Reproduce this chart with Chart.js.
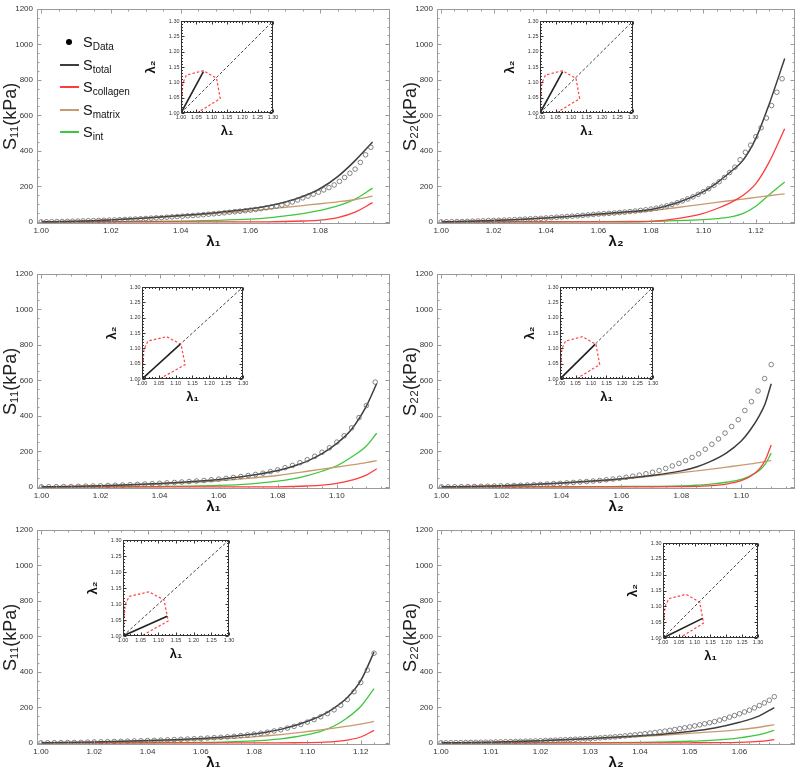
<!DOCTYPE html>
<html>
<head>
<meta charset="utf-8">
<script src="https://cdn.jsdelivr.net/npm/chart.js@4.4.1/dist/chart.umd.min.js"></script>
<style>
  html, body { margin: 0; padding: 0; background: #fff; overflow: hidden; }
  #fig { position: relative; width: 800px; height: 772px; overflow: hidden;
         font-family: "Liberation Sans", Arial, Helvetica, sans-serif; }
  .box { position: absolute; }
  .box canvas { display: block; }
  #legend { position: absolute; left: 0; top: 0; width: 170px; height: 150px; color: #111; }
  #legend .row { position: absolute; left: 0; width: 170px; height: 20px; }
  #legend .txt { position: absolute; left: 83px; top: 0; font-size: 14.5px; line-height: 18px; white-space: nowrap; }
  #legend sub { font-size: 10px; vertical-align: -3px; }
</style>
</head>
<body>
<div id="fig"></div>
<script>
/* ---- Stress curves, 3 protocols x 2 directions ---- */

// shared axis ticks
const yTicks = [0, 200, 400, 600, 800, 1000, 1200];
const insetTicks = [1.00, 1.05, 1.10, 1.15, 1.20, 1.25, 1.30];

// inset: tested region (red dashed) and diagonal
const regionL1 = [1.000, 1.006, 1.018, 1.073, 1.116, 1.128, 1.052];
const regionL2 = [1.000, 1.098, 1.124, 1.138, 1.113, 1.047, 1.000];
const diagL = [1.00, 1.30];

// legend
const legendSubs = ['Data', 'total', 'collagen', 'matrix', 'int'];

// --- panel A: S11 vs lambda1 (protocol 1) ---
const A_xTicks = [1.00, 1.02, 1.04, 1.06, 1.08];
const A_knots    = [1.00, 1.01, 1.02, 1.03, 1.04, 1.05, 1.06, 1.065, 1.07, 1.075, 1.08, 1.085, 1.09, 1.095];
const A_total    = [0, 4, 11, 22, 36, 52, 74, 90, 112, 143, 188, 255, 345, 450];
const A_collagen = [0, 0, 0, 0, 0, 0, 0, 0.5, 2, 5, 10, 24, 55, 108];
const A_matrix   = [0, 4, 11, 21, 33, 47, 62, 72, 82, 92, 102, 113, 126, 145];
const A_int      = [0, 0.3, 1, 2, 4, 8, 15, 22, 34, 47, 65, 90, 128, 190];
const A_dataX = [1.0000,1.0015,1.0030,1.0045,1.0060,1.0075,1.0090,1.0105,1.0120,1.0135,1.0150,1.0165,1.0180,1.0195,1.0210,1.0225,
  1.0240,1.0255,1.0270,1.0285,1.0300,1.0315,1.0330,1.0345,1.0360,1.0375,1.0390,1.0405,1.0420,1.0435,1.0450,1.0465,
  1.0480,1.0495,1.0510,1.0525,1.0540,1.0555,1.0570,1.0585,1.0600,1.0615,1.0630,1.0645,1.0660,1.0675,1.0690,1.0705,
  1.0720,1.0735,1.0750,1.0765,1.0780,1.0795,1.0810,1.0825,1.0840,1.0855,1.0870,1.0885,1.0900,1.0915,1.0930,1.0945];
const A_dataY = [0,0.5,1,1.5,2,3,3.5,4.5,5.5,6.5,7,8,9,10,11,12,
  13.5,15,16,17.5,19,21,22.5,24,26,28,30,32,34,36,38,40.5,
  43,45.5,48,51,54,57,60,63,66,70,74,79,84,89,95,102,
  112,123,135,145,156,167,180,193,208,228,250,274,297,335,378,420];
const A_protoL1 = [1.00, 1.073];
const A_protoL2 = [1.00, 1.135];

// --- panel B: S22 vs lambda2 (protocol 1) ---
const B_xTicks = [1.00, 1.02, 1.04, 1.06, 1.08, 1.10, 1.12];
const B_knots    = [1.00, 1.01, 1.02, 1.03, 1.04, 1.05, 1.06, 1.07, 1.08, 1.09, 1.10, 1.105, 1.11, 1.115, 1.12, 1.125, 1.131];
const B_total    = [0, 3, 8, 14, 22, 32, 44, 55, 70, 108, 170, 218, 278, 345, 470, 660, 920];
const B_collagen = [0, 0, 0, 0, 0, 0, 0, 0.5, 3, 18, 48, 74, 106, 148, 215, 335, 525];
const B_matrix   = [0, 3, 8, 14, 22, 31, 40, 51, 62, 81, 100, 110, 119, 128, 138, 147, 158];
const B_int      = [0, 0, 0.2, 0.4, 0.7, 1, 1.5, 2, 3, 7, 13, 18, 27, 46, 88, 152, 225];
const B_dataX = [1.000,1.002,1.004,1.006,1.008,1.010,1.012,1.014,1.016,1.018,1.020,1.022,1.024,1.026,1.028,1.030,1.032,
  1.034,1.036,1.038,1.040,1.042,1.044,1.046,1.048,1.050,1.052,1.054,1.056,1.058,1.060,1.062,1.064,1.066,1.068,
  1.070,1.072,1.074,1.076,1.078,1.080,1.082,1.084,1.086,1.088,1.090,1.092,1.094,1.096,1.098,1.100,1.102,1.104,
  1.106,1.108,1.110,1.112,1.114,1.116,1.118,1.120,1.122,1.124,1.126,1.128,1.130];
const B_dataY = [0,0.5,1,1.5,2,3,4,5,6,7,8,9,10,11,12.5,14,15.5,
  17,18.5,20,22,24,26,28,30,32,34,36.5,39,41.5,44,46,48,50,52.5,
  55,58,61,64.5,68,72,77,83,90,98,108,118,129,141,155,170,187,206,
  226,250,278,308,350,392,432,480,530,585,655,730,806];
const B_protoL1 = [1.00, 1.073];
const B_protoL2 = [1.00, 1.135];

// --- panel C: S11 vs lambda1 (equibiaxial) ---
const C_xTicks = [1.00, 1.02, 1.04, 1.06, 1.08, 1.10];
const C_knots    = [1.00, 1.01, 1.02, 1.03, 1.04, 1.05, 1.06, 1.07, 1.08, 1.085, 1.09, 1.095, 1.10, 1.105, 1.11, 1.1135];
const C_total    = [0, 2, 6, 12, 19, 29, 42, 62, 92, 115, 145, 187, 245, 325, 455, 582];
const C_collagen = [0, 0, 0, 0, 0, 0, 0, 0, 0.5, 2, 5, 10, 20, 38, 66, 102];
const C_matrix   = [0, 2, 5, 10, 16, 24, 34, 48, 64, 76, 88, 100, 112, 124, 137, 148];
const C_int      = [0, 0, 0.2, 0.5, 2, 4, 8, 16, 32, 45, 64, 88, 119, 168, 230, 302];
const C_dataX = [1.0000,1.0025,1.0050,1.0075,1.0100,1.0125,1.0150,1.0175,1.0200,1.0225,1.0250,1.0275,1.0300,1.0325,1.0350,
  1.0375,1.0400,1.0425,1.0450,1.0475,1.0500,1.0525,1.0550,1.0575,1.0600,1.0625,1.0650,1.0675,1.0700,1.0725,
  1.0750,1.0775,1.0800,1.0825,1.0850,1.0875,1.0900,1.0925,1.0950,1.0975,1.1000,1.1025,1.1050,1.1075,1.1100,1.1130];
const C_dataY = [0,0.5,1,1.5,2,3,4,5,6,7.5,9,10.5,12,14,16,
  18,20,22.5,25,27.5,30,33,36,40,44,48,53,58,64,70,
  77,86,96,108,121,136,153,172,195,220,252,288,332,390,458,590];
const C_protoL1 = [1.00, 1.113];
const C_protoL2 = [1.00, 1.113];

// --- panel D: S22 vs lambda2 (equibiaxial) ---
const D_xTicks = [1.00, 1.02, 1.04, 1.06, 1.08, 1.10];
const D_knots    = [1.00, 1.01, 1.02, 1.03, 1.04, 1.05, 1.06, 1.07, 1.08, 1.085, 1.09, 1.095, 1.10, 1.103, 1.106, 1.108, 1.110];
const D_total    = [0, 2, 6, 13, 22, 33, 46, 64, 90, 112, 145, 190, 258, 320, 400, 470, 581];
const D_collagen = [0, 0, 0, 0, 0, 0, 0, 0, 1, 3, 7, 16, 35, 58, 100, 150, 236];
const D_matrix   = [0, 2, 6, 12, 20, 30, 43, 60, 80, 90, 100, 111, 122, 129, 136, 142, 149];
const D_int      = [0, 0, 0.2, 0.4, 0.7, 1, 2, 3, 5, 9, 15, 26, 42, 62, 92, 128, 190];
const D_dataX = [1.0000,1.0022,1.0044,1.0066,1.0088,1.0110,1.0132,1.0154,1.0176,1.0198,1.0220,1.0242,1.0264,1.0286,1.0308,
  1.0330,1.0352,1.0374,1.0396,1.0418,1.0440,1.0462,1.0484,1.0506,1.0528,1.0550,1.0572,1.0594,1.0616,1.0638,
  1.0660,1.0682,1.0704,1.0726,1.0748,1.0770,1.0792,1.0814,1.0836,1.0858,1.0880,1.0902,1.0924,1.0946,1.0968,
  1.0990,1.1012,1.1034,1.1056,1.1078,1.1100];
const D_dataY = [0,0.2,0.5,1,1.5,2,3,3.5,4.5,5.5,6.5,7.5,9,10.5,12,
  14,16,18,20,22.5,25,27.5,30,33,36,40,44,48,54,60,
  66,74,82,92,104,118,132,148,166,186,212,240,270,303,340,
  378,430,480,540,610,689];
const D_protoL1 = [1.00, 1.113];
const D_protoL2 = [1.00, 1.113];

// --- panel E: S11 vs lambda1 (protocol 3) ---
const E_xTicks = [1.00, 1.02, 1.04, 1.06, 1.08, 1.10, 1.12];
const E_knots    = [1.00, 1.02, 1.04, 1.05, 1.06, 1.07, 1.08, 1.085, 1.09, 1.095, 1.10, 1.105, 1.11, 1.115, 1.12, 1.125];
const E_total    = [0, 5, 13, 18, 25, 34, 50, 61, 76, 96, 122, 152, 196, 255, 350, 511];
const E_collagen = [0, 0, 0, 0, 0, 0, 0, 0, 0.2, 0.6, 1.5, 3, 7, 16, 33, 70];
const E_matrix   = [0, 3, 9, 13, 18, 25, 34, 40, 47, 55, 64, 73, 83, 94, 106, 121];
const E_int      = [0, 0, 0.5, 1, 2, 5, 11, 16, 23, 33, 46, 65, 95, 142, 205, 305];
const E_dataX = [1.0000,1.0025,1.0050,1.0075,1.0100,1.0125,1.0150,1.0175,1.0200,1.0225,1.0250,1.0275,1.0300,1.0325,1.0350,
  1.0375,1.0400,1.0425,1.0450,1.0475,1.0500,1.0525,1.0550,1.0575,1.0600,1.0625,1.0650,1.0675,1.0700,1.0725,
  1.0750,1.0775,1.0800,1.0825,1.0850,1.0875,1.0900,1.0925,1.0950,1.0975,1.1000,1.1025,1.1050,1.1075,1.1100,
  1.1125,1.1150,1.1175,1.1200,1.1225,1.1250];
const E_dataY = [0,0.5,1,1.5,2,2.5,3,4,5,6,7,8,9,10,11,
  12,13,14,15.5,17,18.5,20,21.5,23,25,27,29,31.5,34,37,
  41,45,49,54,60,67,74,83,93,104,117,131,147,165,186,
  212,244,288,340,410,505];
const E_protoL1 = [1.00, 1.125];
const E_protoL2 = [1.00, 1.062];

// --- panel F: S22 vs lambda2 (protocol 3) ---
const F_xTicks = [1.00, 1.01, 1.02, 1.03, 1.04, 1.05, 1.06];
const F_knots    = [1.00, 1.01, 1.02, 1.03, 1.04, 1.045, 1.05, 1.055, 1.06, 1.064, 1.067];
const F_total    = [0, 4, 12, 24, 40, 50, 64, 84, 116, 152, 199];
const F_collagen = [0, 0, 0, 0, 0, 0.2, 0.5, 1, 2.5, 8, 18];
const F_matrix   = [0, 4, 12, 23, 36, 44, 53, 63, 75, 88, 103];
const F_int      = [0, 0, 0.5, 1.5, 3, 5, 9, 15, 28, 46, 70];
const F_dataX = [1.000,1.001,1.002,1.003,1.004,1.005,1.006,1.007,1.008,1.009,1.010,1.011,1.012,1.013,1.014,1.015,1.016,
  1.017,1.018,1.019,1.020,1.021,1.022,1.023,1.024,1.025,1.026,1.027,1.028,1.029,1.030,1.031,1.032,1.033,1.034,
  1.035,1.036,1.037,1.038,1.039,1.040,1.041,1.042,1.043,1.044,1.045,1.046,1.047,1.048,1.049,1.050,1.051,1.052,
  1.053,1.054,1.055,1.056,1.057,1.058,1.059,1.060,1.061,1.062,1.063,1.064,1.065,1.066,1.067];
const F_dataY = [0,0.3,0.7,1.1,1.6,2,2.5,3,3.4,3.7,4,4.7,5.4,6.2,7,7.8,8.6,
  9.4,10.2,11.1,12,13.1,14.2,15.4,16.6,17.8,19,20.3,21.6,22.8,24,26,28,30,32,
  34,36.7,39.4,42.2,45,48,51.5,55,58.6,62.3,66,70.6,75.3,80,85,90,95.7,101.5,
  107.5,113.6,120,128,136,145,154,164,174,184,197,210,225,240,260];
const F_protoL1 = [1.00, 1.125];
const F_protoL2 = [1.00, 1.062];

// --- styling ---
const FONT = '"Liberation Sans", Arial, Helvetica, sans-serif';
const COL = { data: '#666666', total: '#3d3d3d', collagen: '#ff3c3c', matrix: '#c89b6e', int: '#3cc83c' };

const panels = [
  { left: 0,   top: 0,   xMin: 0.9988, xMax: 1.100,  xTicks: A_xTicks, xDiv: 4, xTitle: 'λ₁', yTitle: 'S₁₁(kPa)',
    knots: A_knots, total: A_total, collagen: A_collagen, matrix: A_matrix, int: A_int, dataX: A_dataX, dataY: A_dataY,
    inset: [181, 21, 92, 92], protoL1: A_protoL1, protoL2: A_protoL2 },
  { left: 400, top: 0,   xMin: 0.9984, xMax: 1.135,  xTicks: B_xTicks, xDiv: 4, xTitle: 'λ₂', yTitle: 'S₂₂(kPa)',
    knots: B_knots, total: B_total, collagen: B_collagen, matrix: B_matrix, int: B_int, dataX: B_dataX, dataY: B_dataY,
    inset: [540, 21, 93, 92], protoL1: B_protoL1, protoL2: B_protoL2 },
  { left: 0,   top: 265, xMin: 0.9985, xMax: 1.118,  xTicks: C_xTicks, xDiv: 4, xTitle: 'λ₁', yTitle: 'S₁₁(kPa)',
    knots: C_knots, total: C_total, collagen: C_collagen, matrix: C_matrix, int: C_int, dataX: C_dataX, dataY: C_dataY,
    inset: [142, 287, 101, 92], protoL1: C_protoL1, protoL2: C_protoL2 },
  { left: 400, top: 265, xMin: 0.9985, xMax: 1.118,  xTicks: D_xTicks, xDiv: 4, xTitle: 'λ₂', yTitle: 'S₂₂(kPa)',
    knots: D_knots, total: D_total, collagen: D_collagen, matrix: D_matrix, int: D_int, dataX: D_dataX, dataY: D_dataY,
    inset: [560, 287, 93, 92], protoL1: D_protoL1, protoL2: D_protoL2 },
  { left: 0,   top: 521, xMin: 0.9985, xMax: 1.131,  xTicks: E_xTicks, xDiv: 4, xTitle: 'λ₁', yTitle: 'S₁₁(kPa)',
    knots: E_knots, total: E_total, collagen: E_collagen, matrix: E_matrix, int: E_int, dataX: E_dataX, dataY: E_dataY,
    inset: [123, 540, 106, 96], protoL1: E_protoL1, protoL2: E_protoL2 },
  { left: 400, top: 521, xMin: 0.9992, xMax: 1.0712, xTicks: F_xTicks, xDiv: 5, xTitle: 'λ₂', yTitle: 'S₂₂(kPa)',
    knots: F_knots, total: F_total, collagen: F_collagen, matrix: F_matrix, int: F_int, dataX: F_dataX, dataY: F_dataY,
    inset: [663, 543, 95, 95], protoL1: F_protoL1, protoL2: F_protoL2 },
];

// Mathematica-like frame: box on all four sides with inward major/minor ticks
const frameTicks = {
  id: 'frameTicks',
  afterDraw(chart, args, o) {
    const { ctx, chartArea: a } = chart;
    const L = Math.round(a.left) + 0.5, R = Math.round(a.right) - 0.5;
    const T = Math.round(a.top) + 0.5, B = Math.round(a.bottom) - 0.5;
    ctx.save();
    ctx.strokeStyle = o.color;
    ctx.lineWidth = 1;
    ctx.strokeRect(L, T, R - L, B - T);
    ctx.beginPath();
    for (const id of ['x', 'y']) {
      const s = chart.scales[id];
      const vals = s.ticks.map(t => t.value);
      const step = vals[1] - vals[0];
      const div = o.div[id];
      const marks = vals.map(v => [v, o.major]);
      for (let v = vals[0] - step; v <= vals[vals.length - 1] + step / 2; v += step) {
        for (let k = 1; k < div; k++) marks.push([v + k * step / div, o.minor]);
      }
      for (const [v, len] of marks) {
        if (v < s.min || v > s.max) continue;
        const p = Math.round(s.getPixelForValue(v)) + 0.5;
        if (id === 'x') { ctx.moveTo(p, B); ctx.lineTo(p, B - len); ctx.moveTo(p, T); ctx.lineTo(p, T + len); }
        else { ctx.moveTo(L, p); ctx.lineTo(L + len, p); ctx.moveTo(R, p); ctx.lineTo(R - len, p); }
      }
    }
    ctx.stroke();
    ctx.restore();
  }
};

const fig = document.getElementById('fig');

function makeCanvas(left, top, w, h) {
  const box = document.createElement('div');
  box.className = 'box';
  box.style.cssText = `left:${left}px;top:${top}px;width:${w}px;height:${h}px`;
  const cv = document.createElement('canvas');
  cv.width = w; cv.height = h;
  box.appendChild(cv);
  fig.appendChild(box);
  return cv;
}

const pts = (xs, ys) => xs.map((x, i) => ({ x, y: ys[i] }));

function mainChart(p) {
  const cv = makeCanvas(p.left, p.top, 400, 257);
  const curve = (ys, color, w) => ({
    data: pts(p.knots, ys), borderColor: color, borderWidth: w, pointRadius: 0,
    cubicInterpolationMode: 'monotone', fill: false
  });
  new Chart(cv, {
    type: 'line',
    data: {
      datasets: [
        { data: pts(p.dataX, p.dataY), showLine: false, pointStyle: 'circle', pointRadius: 2.3,
          pointBorderWidth: 0.8, pointBorderColor: COL.data, pointBackgroundColor: 'rgba(0,0,0,0)' },
        curve(p.total, COL.total, 1.5),
        curve(p.collagen, COL.collagen, 1.3),
        curve(p.matrix, COL.matrix, 1.3),
        curve(p.int, COL.int, 1.3),
      ]
    },
    options: {
      responsive: false,
      animation: false,
      layout: { padding: { top: 6, right: p.left ? 3 : 10, left: 0, bottom: 0 } },
      plugins: {
        legend: { display: false },
        tooltip: { enabled: false },
        frameTicks: { color: '#9a9a9a', major: 4, minor: 2, div: { x: p.xDiv, y: 4 } },
      },
      scales: {
        x: {
          type: 'linear', min: p.xMin, max: p.xMax,
          grid: { display: false, drawTicks: false }, border: { display: false },
          afterBuildTicks: s => { s.ticks = p.xTicks.map(v => ({ value: v })); },
          afterFit: s => { s.height = 33; },
          ticks: { autoSkip: false, maxRotation: 0, padding: 2, color: '#333',
                   font: { size: 8, family: FONT }, callback: v => v.toFixed(2) },
          title: { display: true, text: p.xTitle, color: '#111',
                   font: { size: 15, weight: 'bold', family: FONT, lineHeight: 1 }, padding: { top: 0, bottom: 7.5 } },
        },
        y: {
          min: -12, max: 1200,
          grid: { display: false, drawTicks: false }, border: { display: false },
          afterBuildTicks: s => { s.ticks = yTicks.map(v => ({ value: v })); },
          afterFit: s => { s.width = 37; },
          ticks: { autoSkip: false, padding: 4, color: '#333',
                   font: { size: 8, family: FONT }, callback: v => String(v) },
          title: { display: true, text: p.yTitle, color: '#222',
                   font: { size: 18, family: FONT, lineHeight: 1 }, padding: { top: 2, bottom: 0 } },
        },
      },
    },
    plugins: [frameTicks],
  });
}

function insetChart(p) {
  const [x, y, w, h] = p.inset;
  const cv = makeCanvas(x - 38, y - 5, w + 48, h + 31);
  new Chart(cv, {
    type: 'line',
    data: {
      datasets: [
        { data: pts(p.protoL1, p.protoL2), borderColor: '#222', borderWidth: 1.6, pointRadius: 0 },
        { data: pts(diagL, diagL), borderColor: '#444', borderWidth: 1, borderDash: [3, 2], pointRadius: 0 },
        { data: pts(regionL1, regionL2), borderColor: '#ff4444', borderWidth: 1.2, borderDash: [2.5, 2], pointRadius: 0 },
      ]
    },
    options: {
      responsive: false,
      animation: false,
      layout: { padding: { top: 5, right: 10, left: 0, bottom: 0 } },
      plugins: {
        legend: { display: false },
        tooltip: { enabled: false },
        frameTicks: { color: '#333', major: 3, minor: 1.5, div: { x: 5, y: 5 } },
      },
      scales: {
        x: {
          type: 'linear', min: 1.0, max: 1.3,
          grid: { display: false, drawTicks: false }, border: { display: false },
          afterBuildTicks: s => { s.ticks = insetTicks.map(v => ({ value: v })); },
          afterFit: s => { s.height = 26; },
          ticks: { autoSkip: false, maxRotation: 0, padding: 1, color: '#333',
                   font: { size: 5.5, family: FONT }, callback: v => v.toFixed(2) },
          title: { display: true, text: 'λ₁', color: '#111',
                   font: { size: 13, weight: 'bold', family: FONT, lineHeight: 1 }, padding: { top: 0, bottom: 1 } },
        },
        y: {
          min: 1.0, max: 1.3,
          grid: { display: false, drawTicks: false }, border: { display: false },
          afterBuildTicks: s => { s.ticks = insetTicks.map(v => ({ value: v })); },
          afterFit: s => { s.width = 38; },
          ticks: { autoSkip: false, padding: 1.5, color: '#333',
                   font: { size: 5.5, family: FONT }, callback: v => v.toFixed(2) },
          title: { display: true, text: 'λ₂', color: '#111',
                   font: { size: 13, weight: 'bold', family: FONT, lineHeight: 1 }, padding: { top: 2, bottom: 0 } },
        },
      },
    },
    plugins: [frameTicks],
  });
}

function addLegend() {
  const lg = document.createElement('div');
  lg.id = 'legend';
  const colors = ['#000', COL.total, COL.collagen, COL.matrix, COL.int];
  legendSubs.forEach((sub, i) => {
    const row = document.createElement('div');
    row.className = 'row';
    row.style.top = (33 + i * 22.5) + 'px';
    const mark = i === 0
      ? `<span style="position:absolute;left:66px;top:6px;width:6px;height:6px;border-radius:50%;background:#000"></span>`
      : `<span style="position:absolute;left:60px;top:8px;width:19px;height:2px;background:${colors[i]}"></span>`;
    row.innerHTML = mark + `<span class="txt">S<sub>${sub}</sub></span>`;
    lg.appendChild(row);
  });
  fig.appendChild(lg);
}

panels.forEach(p => mainChart(p));
panels.forEach(p => insetChart(p));
addLegend();
</script>
</body>
</html>
